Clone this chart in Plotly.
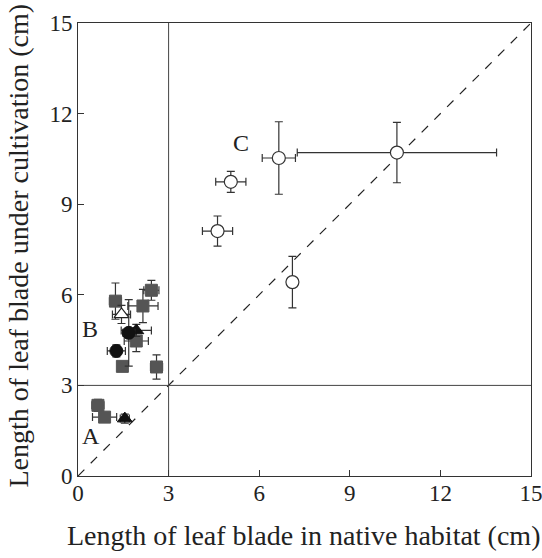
import plotly.graph_objects as go

# Gray squares
sq_x = [2.43, 1.24, 2.15, 1.93, 1.47, 2.60, 0.66, 0.88]
sq_y = [6.15, 5.79, 5.63, 4.47, 3.63, 3.61, 2.34, 1.95]
sq_ex = [0.25, 0.2, 0.5, 0.4, 0.15, 0.2, 0.2, 0.4]
sq_ey = [0.33, 0.6, 0.55, 0.35, 0.15, 0.4, 0.2, 0.15]

# Black triangles
tri_x = [1.55, 1.93]
tri_y = [1.90, 4.82]
tri_ex = [0.15, 0.5]
tri_ey = [0.15, 0.2]

# Open triangle
otri_x = [1.44]
otri_y = [5.35]
otri_ex = [0.3]
otri_ey = [0.3]

# Black circles
bc_x = [1.68, 1.27]
bc_y = [4.74, 4.14]
bc_ex = [0.2, 0.3]
bc_ey = [1.1, 0.2]

# Open circles (group C)
oc_x = [6.65, 10.56, 5.06, 4.62, 7.10]
oc_y = [10.53, 10.71, 9.74, 8.11, 6.42]
oc_ex = [0.55, 3.3, 0.5, 0.5, 0.1]
oc_ey = [1.2, 1.0, 0.35, 0.5, 0.85]

labels = ["A", "B", "C"]
label_x = [0.42, 0.40, 5.40]
label_y = [1.27, 4.80, 10.95]

ticks = [0, 3, 6, 9, 12, 15]

FONT = "Liberation Serif"

fig = go.Figure()

# reference lines
fig.add_trace(go.Scatter(x=[0, 15], y=[0, 15], mode="lines",
                         line=dict(color="#222", width=1.2, dash="dash"),
                         showlegend=False, hoverinfo="skip"))
fig.add_trace(go.Scatter(x=[3, 3], y=[0, 15], mode="lines",
                         line=dict(color="#444", width=1), showlegend=False, hoverinfo="skip"))
fig.add_trace(go.Scatter(x=[0, 15], y=[3, 3], mode="lines",
                         line=dict(color="#444", width=1), showlegend=False, hoverinfo="skip"))

def err(v, color="#333"):
    return dict(type="data", array=v, visible=True, color=color, thickness=1.2, width=4)

fig.add_trace(go.Scatter(x=sq_x, y=sq_y, mode="markers",
                         error_x=err(sq_ex), error_y=err(sq_ey),
                         marker=dict(symbol="square", size=12, color="#555555",
                                     line=dict(color="#555555", width=1)),
                         showlegend=False))
fig.add_trace(go.Scatter(x=tri_x, y=tri_y, mode="markers",
                         error_x=err(tri_ex), error_y=err(tri_ey),
                         marker=dict(symbol="triangle-up", size=13, color="#111",
                                     line=dict(color="#111", width=1)),
                         showlegend=False))
fig.add_trace(go.Scatter(x=otri_x, y=otri_y, mode="markers",
                         error_x=err(otri_ex), error_y=err(otri_ey),
                         marker=dict(symbol="triangle-up", size=13, color="white",
                                     line=dict(color="#222", width=1.2)),
                         showlegend=False))
fig.add_trace(go.Scatter(x=bc_x, y=bc_y, mode="markers",
                         error_x=err(bc_ex), error_y=err(bc_ey),
                         marker=dict(symbol="circle", size=13, color="#111",
                                     line=dict(color="#111", width=1)),
                         showlegend=False))
fig.add_trace(go.Scatter(x=oc_x, y=oc_y, mode="markers",
                         error_x=err(oc_ex), error_y=err(oc_ey),
                         marker=dict(symbol="circle", size=13, color="white",
                                     line=dict(color="#333", width=1.2)),
                         showlegend=False))

fig.add_trace(go.Scatter(x=label_x, y=label_y, mode="text", text=labels,
                         textfont=dict(family=FONT, size=24, color="#222"),
                         showlegend=False, hoverinfo="skip"))

axis_common = dict(range=[0, 15], tickvals=ticks, ticks="inside", ticklen=6,
                   tickcolor="#333", showline=True, linecolor="#333", linewidth=1,
                   mirror=True, showgrid=False, zeroline=False, automargin=False,
                   ticklabeloverflow="allow",
                   tickfont=dict(family=FONT, size=23, color="#222"))

fig.update_xaxes(**axis_common, ticklabelstandoff=-4)
fig.update_yaxes(**axis_common, ticklabelstandoff=0)

fig.add_annotation(text="Length of leaf blade in native habitat (cm)",
                   xref="paper", yref="paper", x=0.5, y=0, yshift=-42, xshift=-1,
                   xanchor="center", yanchor="top", showarrow=False,
                   font=dict(family=FONT, size=28, color="#222"))
fig.add_annotation(text="Length of leaf blade under cultivation (cm)",
                   xref="paper", yref="paper", x=0, y=0.5, xshift=-60, yshift=4,
                   xanchor="center", yanchor="middle", textangle=-90, showarrow=False,
                   font=dict(family=FONT, size=28, color="#222"))

fig.update_layout(width=542, height=558, plot_bgcolor="white", paper_bgcolor="white",
                  margin=dict(l=78, r=11, t=23, b=82))

fig.write_html("out.html", config={"displayModeBar": False},
               post_script="document.body.style.margin='0';document.body.style.overflow='hidden';")
